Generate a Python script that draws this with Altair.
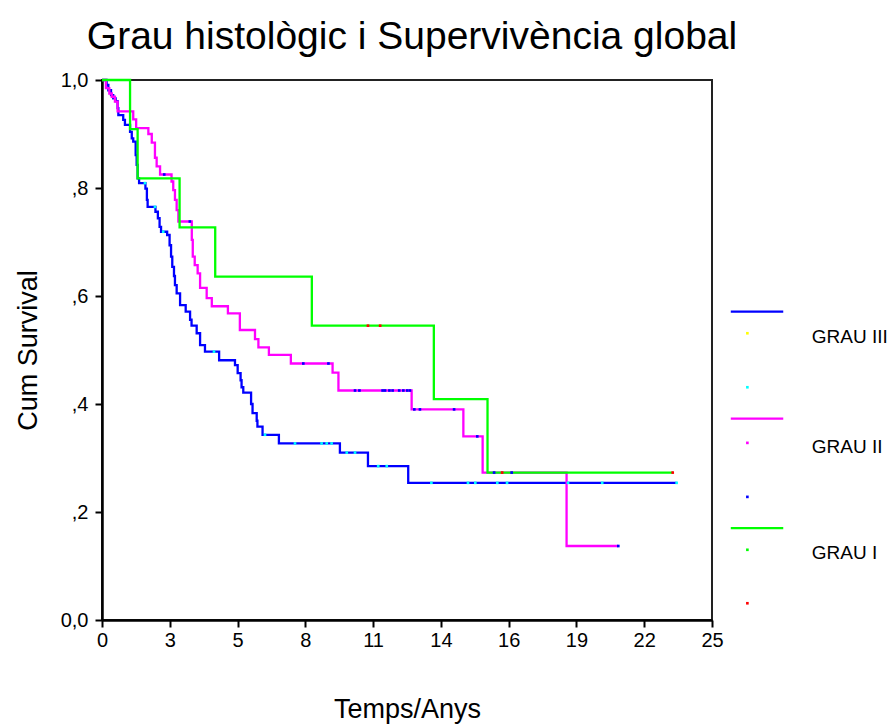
import altair as alt
import pandas as pd

FONT = "Liberation Sans"

# ---- GRAU III (blue) step curve: event times (years) and cumulative survival
T1 = [0, 0.19, 0.26, 0.37, 0.46, 0.56, 0.64, 0.67, 0.87, 0.94, 1.15, 1.22, 1.28, 1.38,
      1.42, 1.46, 1.52, 1.78, 1.84, 1.87, 2.19, 2.29, 2.36, 2.42, 2.67, 2.77, 2.83, 2.88,
      2.95, 2.99, 3.06, 3.20, 3.43, 3.61, 3.67, 3.88, 4.02, 4.22, 4.80, 5.45, 5.56, 5.68,
      5.72, 5.79, 6.11, 6.17, 6.34, 6.37, 6.58, 7.25, 9.75, 10.9, 12.55, 23.55]
S1 = [1.0, 0.991, 0.981, 0.972, 0.966, 0.961, 0.948, 0.935, 0.926, 0.917, 0.904, 0.892,
      0.886, 0.861, 0.843, 0.818, 0.809, 0.799, 0.778, 0.765, 0.756, 0.744, 0.728, 0.719,
      0.713, 0.694, 0.673, 0.654, 0.637, 0.620, 0.605, 0.583, 0.571, 0.556, 0.545, 0.531,
      0.509, 0.497, 0.481, 0.472, 0.457, 0.444, 0.431, 0.421, 0.400, 0.383, 0.369, 0.358,
      0.343, 0.327, 0.310, 0.285, 0.254, 0.254]
C1 = [1.76, 2.17, 2.51, 4.59, 6.68, 7.91, 9.0, 9.21, 9.41, 10.03, 10.37, 11.32, 11.67,
      13.5, 15.0, 15.3, 16.2, 16.6, 19.1, 20.5, 23.55]

# ---- GRAU II (magenta)
T2 = [0, 0.16, 0.30, 0.40, 0.53, 0.64, 1.28, 1.40, 1.90, 2.04, 2.17, 2.24, 2.38, 2.85,
      2.92, 2.99, 3.06, 3.13, 3.68, 3.72, 3.80, 3.92, 4.02, 4.29, 4.50, 5.16, 5.65, 6.27,
      6.41, 6.84, 7.74, 9.45, 9.69, 12.69, 14.81, 15.60, 19.04, 21.16]
S2 = [1.0, 0.985, 0.975, 0.969, 0.960, 0.942, 0.927, 0.911, 0.900, 0.884, 0.856, 0.840,
      0.825, 0.812, 0.796, 0.778, 0.759, 0.738, 0.704, 0.673, 0.657, 0.642, 0.615, 0.596,
      0.581, 0.568, 0.537, 0.520, 0.505, 0.491, 0.475, 0.458, 0.425, 0.390, 0.340, 0.273,
      0.137, 0.137]
C2 = [2.55, 3.6, 8.25, 9.28, 10.37, 10.55, 11.50, 11.6, 11.78, 11.91, 12.18, 12.35, 12.51,
      12.62, 12.8, 13.03, 14.43, 15.38, 16.07, 16.79, 21.16]

# ---- GRAU I (green)
T3 = [0, 1.15, 1.46, 3.18, 4.64, 8.6, 13.6, 15.8, 23.39]
S3 = [1.0, 0.909, 0.818, 0.727, 0.636, 0.545, 0.409, 0.273, 0.273]
C3 = [10.9, 11.4, 16.4, 23.39]

LINE_COLORS = ["#0000ff", "#ff00ff", "#00ff00"]
CENS_COLORS = ["#00ffff", "#0000ff", "#ff0000"]
GROUPS = ["GRAU III", "GRAU II", "GRAU I"]

# axis ticks / labels
X_TICKS = [i * 25 / 9 for i in range(10)]
X_LABELS = ["0", "3", "5", "8", "11", "14", "16", "19", "22", "25"]
Y_TICKS = [0, 0.2, 0.4, 0.6, 0.8, 1.0]

# legend (SPSS style) layout in data units, outside the plotted domain
LEG_LINE_Y = [0.571, 0.373, 0.170]
LEG_DOT1_Y = [0.531, 0.328, 0.130]
LEG_DOT2_Y = [0.431, 0.228, 0.031]
LEG_LABEL_Y = [0.524, 0.321, 0.124]
LEG_DOT1_COLORS = ["#ffff00", "#ff00ff", "#00ff00"]
LEG_DOT2_COLORS = ["#00ffff", "#0000ff", "#ff0000"]
LEG_X0, LEG_X1, LEG_DOT_X, LEG_TEXT_X = 25.77, 27.92, 26.45, 29.09


def step_value(T, S, x):
    v = S[0]
    for t, s in zip(T, S):
        if t <= x:
            v = s
    return v


def x_enc(field="t"):
    return alt.X(
        f"{field}:Q",
        scale=alt.Scale(domain=[0, 25], nice=False, zero=False),
        axis=alt.Axis(
            values=X_TICKS,
            labelExpr="[" + ",".join(f"'{l}'" for l in X_LABELS) + "][round(datum.value*9/25)]",
            title="Temps/Anys",
            labelFlush=False,
        ),
    )


def y_enc(field="s"):
    return alt.Y(
        f"{field}:Q",
        scale=alt.Scale(domain=[0, 1], nice=False, zero=False),
        axis=alt.Axis(
            values=Y_TICKS,
            labelExpr="datum.value == 0 ? '0,0' : (datum.value == 1 ? '1,0' : ',' + round(datum.value*10))",
            title="Cum Survival",
            labelFlush=False,
        ),
    )


layers = []
series = [(T1, S1, C1), (T2, S2, C2), (T3, S3, C3)]
for i, (T, S, C) in enumerate(series):
    assert len(T) == len(S)
    df = pd.DataFrame({"t": T, "s": S, "o": list(range(len(T)))})
    layers.append(
        alt.Chart(df).mark_line(interpolate="step-after", strokeWidth=2.3, color=LINE_COLORS[i])
        .encode(x=x_enc(), y=y_enc(), order="o:Q")
    )
for i, (T, S, C) in enumerate(series):
    cdf = pd.DataFrame({"t": C, "s": [step_value(T, S, c) for c in C]})
    layers.append(
        alt.Chart(cdf).mark_square(size=7, color=CENS_COLORS[i], opacity=1)
        .encode(x=x_enc(), y=y_enc())
    )

# legend
leg_lines = pd.DataFrame({"t": [LEG_X0] * 3, "t2": [LEG_X1] * 3, "s": LEG_LINE_Y, "c": LINE_COLORS})
layers.append(
    alt.Chart(leg_lines).mark_rule(strokeWidth=2.3)
    .encode(x=x_enc(), x2="t2:Q", y=y_enc(), color=alt.Color("c:N", scale=None))
)
leg_dots = pd.DataFrame({
    "t": [LEG_DOT_X] * 6,
    "s": LEG_DOT1_Y + LEG_DOT2_Y,
    "c": LEG_DOT1_COLORS + LEG_DOT2_COLORS,
})
layers.append(
    alt.Chart(leg_dots).mark_square(size=7, opacity=1)
    .encode(x=x_enc(), y=y_enc(), color=alt.Color("c:N", scale=None))
)
leg_text = pd.DataFrame({"t": [LEG_TEXT_X] * 3, "s": LEG_LABEL_Y, "lab": GROUPS})
layers.append(
    alt.Chart(leg_text).mark_text(align="left", baseline="middle", font=FONT, fontSize=19, color="black")
    .encode(x=x_enc(), y=y_enc(), text="lab:N")
)

chart = (
    alt.layer(*layers)
    .properties(
        width=610,
        height=540,
        background="white",
        autosize=alt.AutoSizeParams(type="none"),
        padding={"left": 102, "top": 80, "right": 180, "bottom": 104},
        title=alt.TitleParams(
            "Grau histològic i Supervivència global",
            font=FONT, fontSize=39, fontWeight="normal", color="black",
            anchor="middle", frame="group", baseline="alphabetic", offset=29, dy=47, dx=5,
        ),
    )
    .configure_view(stroke="#222222", strokeWidth=2)
    .configure_axis(
        grid=False,
        domainColor="black", domainWidth=2.5,
        tickColor="black", tickWidth=2, tickSize=7,
        labelFont=FONT, labelFontSize=20, labelColor="black",
        titleFont=FONT, titleFontSize=27, titleFontWeight="normal", titleColor="black",
    )
    .configure_axisX(labelPadding=3, titlePadding=46, labelAngle=0)
    .configure_axisY(labelPadding=7, titlePadding=18)
)

chart.save("out.html", embed_options={"renderer": "svg", "actions": False})
